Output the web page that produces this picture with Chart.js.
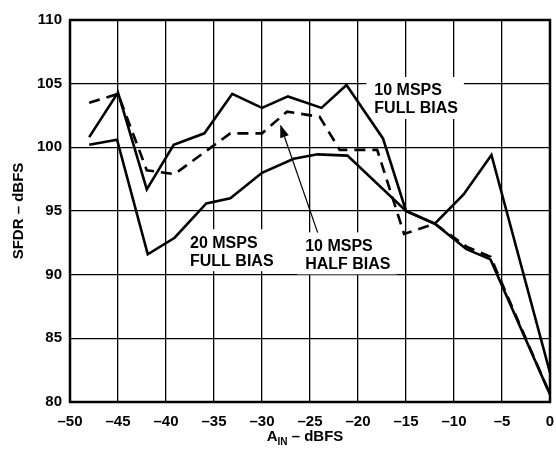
<!DOCTYPE html>
<html>
<head>
<meta charset="utf-8">
<script src="https://cdn.jsdelivr.net/npm/chart.js@4/dist/chart.umd.min.js"></script>
<style>
  html, body { margin: 0; padding: 0; background: #fff; }
  #wrap { width: 556px; height: 449px; }
</style>
</head>
<body>
<div id="wrap"><canvas id="sfdrChart" width="556" height="449"></canvas></div>
<script>
// input level (dBFS) and SFDR (dBFS)
const fullBiasX = [-48, -45, -42, -39.2, -36, -33.1, -30, -27.3, -23.8, -21.2, -17.4, -15, -12, -9, -6.1, 0];
const fullBiasY = [100.8, 104.3, 96.7, 100.2, 101.1, 104.2, 103.1, 104.0, 103.1, 104.9, 100.7, 95.0, 94.0, 96.3, 99.4, 82.3];

const halfBiasX = [-48, -45, -42, -39.1, -33.3, -30, -27.4, -24, -21.9, -18, -15.2, -12, -8.7, -6.2, 0];
const halfBiasY = [103.5, 104.2, 98.2, 97.9, 101.1, 101.1, 102.8, 102.4, 99.8, 99.8, 93.2, 94.0, 92.2, 91.4, 80.6];

const mid20X = [-48, -45.1, -41.9, -39.1, -35.8, -33.3, -30, -26.7, -24.2, -21.1, -15, -12, -8.7, -6.2, 0];
const mid20Y = [100.2, 100.6, 91.6, 92.9, 95.6, 96.0, 98.0, 99.1, 99.45, 99.35, 95.0, 94.0, 92.0, 91.2, 80.6];

const xTicks = [-50, -45, -40, -35, -30, -25, -20, -15, -10, -5, 0];
const yTicks = [80, 85, 90, 95, 100, 105, 110];

// text callouts: lines of text, top-left anchor in data units
const callouts = [
    { lines: ['10 MSPS', 'FULL BIAS'], x: -18.3, y: 105.05 },
    { lines: ['20 MSPS', 'FULL BIAS'], x: -37.5, y: 93.1 },
    { lines: ['10 MSPS', 'HALF BIAS'], x: -25.5, y: 92.85 }
];
const arrowFrom = { x: -24.2, y: 93.3 };
const arrowTo = { x: -28.1, y: 101.8 };

const FONT = '"Liberation Sans", Arial, Helvetica, sans-serif';

function pts(xs, ys) {
    return xs.map((x, i) => ({ x: x, y: ys[i] }));
}

function dash(v) {
    return v < 0 ? '\u2013' + Math.abs(v) : String(v);
}

const overlay = {
    id: 'overlay',
    beforeDatasetsDraw(chart) {
        const { ctx, chartArea: a, scales } = chart;
        const sx = scales.x, sy = scales.y;

        // white boxes + labels
        ctx.save();
        ctx.font = 'bold 16px ' + FONT;
        ctx.textBaseline = 'top';
        callouts.forEach(c => {
            const px = sx.getPixelForValue(c.x);
            const py = sy.getPixelForValue(c.y);
            const w = Math.max(...c.lines.map(l => ctx.measureText(l).width));
            ctx.fillStyle = '#fff';
            ctx.fillRect(px - 8, py - 6, w + 14, c.lines.length * 18 + 6);
            ctx.fillStyle = '#000';
            c.lines.forEach((l, i) => ctx.fillText(l, px, py + i * 18));
        });
        ctx.restore();

        // heavy frame
        ctx.save();
        ctx.strokeStyle = '#000';
        ctx.lineWidth = 2.5;
        ctx.strokeRect(a.left, a.top, a.right - a.left, a.bottom - a.top);
        ctx.restore();
    },
    afterDraw(chart) {
        const { ctx, chartArea: a, scales } = chart;
        const sx = scales.x, sy = scales.y;

        // arrow to the half-bias curve
        const x1 = sx.getPixelForValue(arrowFrom.x), y1 = sy.getPixelForValue(arrowFrom.y);
        const x2 = sx.getPixelForValue(arrowTo.x), y2 = sy.getPixelForValue(arrowTo.y);
        const ang = Math.atan2(y2 - y1, x2 - x1);
        const len = 13, half = 4.5;
        ctx.save();
        ctx.strokeStyle = '#000';
        ctx.fillStyle = '#000';
        ctx.lineWidth = 1.2;
        ctx.beginPath();
        ctx.moveTo(x1, y1);
        ctx.lineTo(x2 - Math.cos(ang) * len, y2 - Math.sin(ang) * len);
        ctx.stroke();
        ctx.beginPath();
        ctx.moveTo(x2, y2);
        ctx.lineTo(x2 - Math.cos(ang) * len - Math.sin(ang) * half, y2 - Math.sin(ang) * len + Math.cos(ang) * half);
        ctx.lineTo(x2 - Math.cos(ang) * len + Math.sin(ang) * half, y2 - Math.sin(ang) * len - Math.cos(ang) * half);
        ctx.closePath();
        ctx.fill();
        ctx.restore();

        // x axis title with subscript
        ctx.save();
        ctx.fillStyle = '#000';
        ctx.textBaseline = 'alphabetic';
        const big = 'bold 15px ' + FONT, small = 'bold 10px ' + FONT;
        ctx.font = big;
        const wA = ctx.measureText('A').width;
        const wRest = ctx.measureText(' \u2013 dBFS').width;
        ctx.font = small;
        const wIn = ctx.measureText('IN').width;
        const total = wA + wIn + wRest;
        let cx = (a.left + a.right) / 2 - 5 - total / 2;
        const base = 441;
        ctx.font = big;
        ctx.fillText('A', cx, base);
        cx += wA;
        ctx.font = small;
        ctx.fillText('IN', cx, base + 4);
        cx += wIn;
        ctx.font = big;
        ctx.fillText(' \u2013 dBFS', cx, base);
        ctx.restore();
    }
};

const ctx = document.getElementById('sfdrChart');

const lineStyle = {
    borderColor: '#000',
    borderWidth: 2.6,
    pointRadius: 0,
    showLine: true,
    fill: false,
    tension: 0
};

new Chart(ctx, {
    type: 'scatter',
    data: {
        datasets: [
            Object.assign({ label: '20 MSPS FULL BIAS', data: pts(mid20X, mid20Y) }, lineStyle),
            Object.assign({ label: '10 MSPS HALF BIAS', data: pts(halfBiasX, halfBiasY), borderDash: [11, 7] }, lineStyle),
            Object.assign({ label: '10 MSPS FULL BIAS', data: pts(fullBiasX, fullBiasY) }, lineStyle)
        ]
    },
    options: {
        responsive: false,
        animation: false,
        devicePixelRatio: 1,
        layout: { padding: { top: 20, right: 6, left: 0, bottom: 0 } },
        plugins: {
            legend: { display: false },
            tooltip: { enabled: false }
        },
        scales: {
            x: {
                type: 'linear',
                min: -50,
                max: 0,
                afterBuildTicks: s => { s.ticks = xTicks.map(v => ({ value: v })); },
                afterFit: s => { s.height = 47; s.paddingLeft = 0; s.paddingRight = 0; },
                grid: { color: '#000', lineWidth: 1.3, drawTicks: false },
                border: { display: false },
                ticks: {
                    color: '#000',
                    padding: 11,
                    maxRotation: 0,
                    font: { family: FONT, size: 15, weight: 'bold' },
                    callback: v => dash(v)
                }
            },
            y: {
                type: 'linear',
                min: 80,
                max: 110,
                afterBuildTicks: s => { s.ticks = yTicks.map(v => ({ value: v })); },
                afterFit: s => { s.width = 70; s.paddingTop = 0; s.paddingBottom = 0; },
                grid: { color: '#000', lineWidth: 1.3, drawTicks: false },
                border: { display: false },
                title: {
                    display: true,
                    text: 'SFDR \u2013 dBFS',
                    color: '#000',
                    padding: { top: 10, bottom: 0 },
                    font: { family: FONT, size: 15, weight: 'bold' }
                },
                ticks: {
                    color: '#000',
                    padding: 8,
                    font: { family: FONT, size: 15, weight: 'bold' },
                    callback: v => dash(v)
                }
            }
        }
    },
    plugins: [overlay]
});
</script>
</body>
</html>
